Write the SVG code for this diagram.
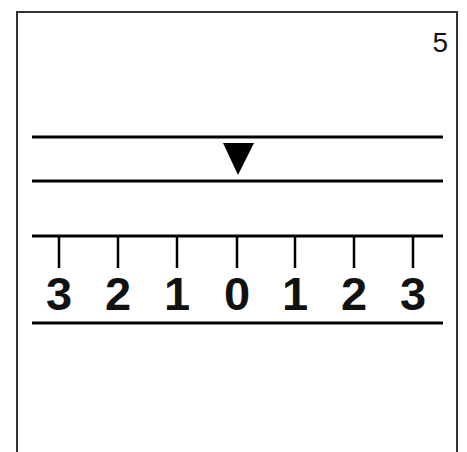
<svg xmlns="http://www.w3.org/2000/svg" width="467" height="452" viewBox="0 0 467 452">
<style>
.ln{stroke:#000;stroke-width:3;fill:none}
.tk{stroke:#000;stroke-width:2.5}
.num{font-family:"Liberation Sans",Arial,sans-serif;font-weight:bold;font-size:47px;text-anchor:middle;fill:#111}
</style>
<rect width="467" height="452" fill="#fff"/>
<path d="M17,460 V12 H457 V460" fill="none" stroke="#333" stroke-width="2"/>
<text x="448" y="52" font-family="'Liberation Sans',Arial,sans-serif" font-size="28" text-anchor="end" fill="#111">5</text>
<g id="scale">
<line class="ln" x1="32" y1="137" x2="443" y2="137"/>
<line class="ln" x1="32" y1="181" x2="443" y2="181"/>
<polygon points="223,143 254,143 238,175" fill="#000"/>
<line class="ln" x1="32" y1="236" x2="443" y2="236"/>
<line class="ln" x1="32" y1="323" x2="443" y2="323"/>
<line class="tk" x1="59" y1="236" x2="59" y2="268"/>
<line class="tk" x1="118" y1="236" x2="118" y2="268"/>
<line class="tk" x1="177" y1="236" x2="177" y2="268"/>
<line class="tk" x1="237" y1="236" x2="237" y2="268"/>
<line class="tk" x1="295" y1="236" x2="295" y2="268"/>
<line class="tk" x1="354" y1="236" x2="354" y2="268"/>
<line class="tk" x1="413" y1="236" x2="413" y2="268"/>
<text class="num" x="59" y="310">3</text>
<text class="num" x="118" y="310">2</text>
<text class="num" x="177" y="310">1</text>
<text class="num" x="237" y="310">0</text>
<text class="num" x="295" y="310">1</text>
<text class="num" x="354" y="310">2</text>
<text class="num" x="413" y="310">3</text>
</g>
</svg>
